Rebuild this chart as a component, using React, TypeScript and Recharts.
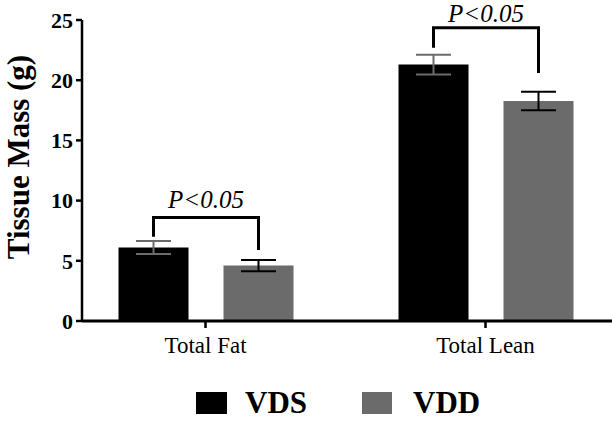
import React from 'react';
import { BarChart, Bar, XAxis, YAxis, ErrorBar, Legend, Rectangle } from 'recharts';

const categories = ['Total Fat', 'Total Lean'];
const vdsMean = [6.1, 21.3];
const vdsSem = [0.54, 0.82];
const vddMean = [4.6, 18.27];
const vddSem = [0.47, 0.77];
// significance brackets, in grams
const bracketTop = [8.6, 24.35];
const bracketLeftEnd = [7.0, 22.7];
const bracketRightEnd = [5.9, 20.6];
const pLabelAt = [9.35, 24.85];
const pLabels = ['P<0.05', 'P<0.05'];
const yTicks = [0, 5, 10, 15, 20, 25];

const data = categories.map((name, i) => ({
  name,
  vds: vdsMean[i],
  vdsErr: vdsSem[i],
  vdd: vddMean[i],
  vddErr: vddSem[i],
  top: bracketTop[i],
  leftEnd: bracketLeftEnd[i],
  rightEnd: bracketRightEnd[i],
  pAt: pLabelAt[i],
  p: pLabels[i],
}));

const SERIF = "'Times New Roman', 'Liberation Serif', 'DejaVu Serif', serif";
const BAR_GAP = 35;
const GRAY = '#6b6b6b';

// VDD bar + the bracket that joins it to the VDS bar of the same group
const VddShape = (props: any) => {
  const { x, y, width, height, fill, payload } = props;
  const base = y + height;
  const unit = height / payload.vdd;
  const py = (v: number) => base - v * unit;
  const rx = x + width / 2;
  const lx = x - BAR_GAP - width / 2;
  return (
    <g>
      <Rectangle x={x} y={y} width={width} height={height} fill={fill} />
      <path
        d={`M${lx},${py(payload.leftEnd)} L${lx},${py(payload.top)} L${rx},${py(payload.top)} L${rx},${py(payload.rightEnd)}`}
        fill="none"
        stroke="#000"
        strokeWidth={3}
      />
      <text
        x={(lx + rx) / 2}
        y={py(payload.pAt)}
        textAnchor="middle"
        style={{ fontFamily: SERIF, fontStyle: 'italic', fontSize: 25 }}
        fill="#000"
      >
        {payload.p}
      </text>
    </g>
  );
};

const TitleLabel = ({ viewBox }: any) => {
  const cx = viewBox.x + 29;
  const cy = 157;
  return (
    <text
      x={cx}
      y={cy}
      transform={`rotate(-90, ${cx}, ${cy})`}
      textAnchor="middle"
      style={{ fontFamily: SERIF, fontWeight: 'bold', fontSize: 31 }}
      fill="#000"
    >
      Tissue Mass (g)
    </text>
  );
};

const LegendContent = () => (
  <svg width={612} height={44} style={{ display: 'block' }}>
    <rect x={196} y={15} width={31} height={22} fill="#000" />
    <text x={245} y={36} style={{ fontFamily: SERIF, fontWeight: 'bold', fontSize: 31 }} fill="#000">VDS</text>
    <rect x={362} y={15} width={30} height={22} fill={GRAY} />
    <text x={413} y={36} style={{ fontFamily: SERIF, fontWeight: 'bold', fontSize: 31 }} fill="#000">VDD</text>
  </svg>
);

export default function App() {
  return (
    <div style={{ position: 'absolute', left: 0, top: 0, background: '#fff', fontFamily: SERIF }}>
      <BarChart
        width={612}
        height={425}
        data={data}
        barGap={BAR_GAP}
        margin={{ top: 20, right: 0, bottom: 4, left: 0 }}
        style={{ fontFamily: SERIF }}
      >
        <XAxis
          dataKey="name"
          interval={0}
          height={56}
          padding={{ left: -16.5, right: -13.5 }}
          axisLine={{ stroke: '#000', strokeWidth: 3 }}
          tickLine={{ stroke: '#000', strokeWidth: 2.5 }}
          tickSize={7}
          tickMargin={9}
          tick={{ fill: '#000', fontSize: 23, fontFamily: SERIF }}
        />
        <YAxis
          width={82}
          domain={[0, 25]}
          ticks={yTicks}
          interval={0}
          axisLine={{ stroke: '#000', strokeWidth: 2.5 }}
          tickLine={{ stroke: '#000', strokeWidth: 2.5 }}
          tickSize={6}
          tickMargin={3}
          tick={{ fill: '#000', fontSize: 22, fontWeight: 'bold', fontFamily: SERIF }}
          label={<TitleLabel />}
        />
        <Legend verticalAlign="bottom" height={44} content={<LegendContent />} wrapperStyle={{ left: 0, width: 612 }} />
        <Bar dataKey="vds" name="VDS" fill="#000" barSize={70} isAnimationActive={false}>
          <ErrorBar dataKey="vdsErr" width={17.5} stroke={GRAY} strokeWidth={2} isAnimationActive={false} />
        </Bar>
        <Bar
          dataKey="vdd"
          name="VDD"
          fill={GRAY}
          barSize={70}
          isAnimationActive={false}
          shape={(p: any) => <VddShape {...p} />}
        >
          <ErrorBar dataKey="vddErr" width={17.5} stroke="#000" strokeWidth={2} isAnimationActive={false} />
        </Bar>
      </BarChart>
    </div>
  );
}
